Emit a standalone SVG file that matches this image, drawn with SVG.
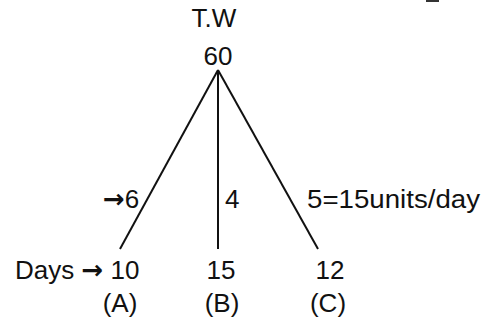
<svg xmlns="http://www.w3.org/2000/svg" width="487" height="320" viewBox="0 0 487 320">
<style>
text{font-family:"Liberation Sans",Arial,sans-serif;font-size:26px;fill:#111}
.m{text-anchor:middle}
.ar{font-weight:bold;font-family:"DejaVu Sans","Liberation Sans",sans-serif;font-size:26px}
line{stroke:#111;stroke-width:2;stroke-linecap:butt}
</style>
<rect width="487" height="320" fill="#fff"/>
<rect x="426" y="0" width="13" height="2" fill="#333"/>
<g id="connectors">
<line x1="218" y1="70" x2="120" y2="249"/>
<line x1="218" y1="70" x2="218" y2="249"/>
<line x1="218" y1="70" x2="318" y2="249"/>
</g>
<g id="root">
<text class="m" x="214" y="27">T.W</text>
<text class="m" x="218" y="65">60</text>
</g>
<g id="labelA">
<text x="103" y="208"><tspan class="ar">→</tspan>6</text>
</g>
<g id="labelB"><text x="225" y="208">4</text></g>
<g id="labelC"><text x="307" y="208" textLength="173" lengthAdjust="spacingAndGlyphs">5=15units/day</text></g>
<g id="nodeA">
<text x="15" y="279">Days <tspan class="ar">→</tspan> 10</text>
<text class="m" x="120" y="312">(A)</text>
</g>
<g id="nodeB">
<text class="m" x="221" y="279">15</text>
<text class="m" x="222" y="312">(B)</text>
</g>
<g id="nodeC">
<text class="m" x="330" y="279">12</text>
<text class="m" x="328" y="312">(C)</text>
</g>
</svg>
